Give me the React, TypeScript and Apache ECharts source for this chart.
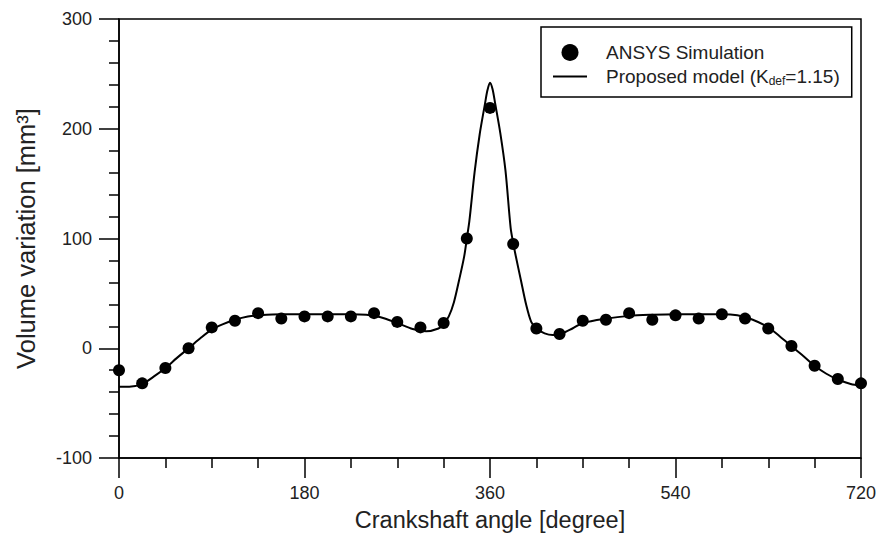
import React, { useEffect, useRef } from "react";
import * as echarts from "echarts";

// ANSYS simulation points
const simAngles = [0, 22.5, 45, 67.5, 90, 112.5, 135, 157.5, 180, 202.5, 225, 247.5, 270, 292.5, 315, 337.5, 360, 382.5, 405, 427.5, 450, 472.5, 495, 517.5, 540, 562.5, 585, 607.5, 630, 652.5, 675, 697.5, 720];
const simVolume = [-20, -32, -18, 0, 19, 25, 32, 27, 29, 29, 29, 32, 24, 19, 23, 100, 219, 95, 18, 13, 25, 26, 32, 26, 30, 27, 31, 27, 18, 2, -16, -28, -32];

// Proposed model curve
const modelAngles = [0, 10, 22.5, 35, 45, 56, 67.5, 80, 90, 101, 112.5, 125, 135, 157.5, 180, 202.5, 225, 240, 253, 270, 285, 298, 310, 315, 320, 325, 330, 335, 337.5, 340, 345, 350, 355, 357.5, 360, 362.5, 365, 370, 375, 380, 382.5, 385, 390, 395, 400, 405, 413, 421, 430, 440, 450, 472.5, 495, 517.5, 540, 562.5, 585, 600, 615, 630, 641, 652.5, 664, 675, 686, 697.5, 710, 720];
const modelVolume = [-35, -35, -32.5, -25, -18, -9, 0, 10, 17, 22, 26, 29, 30, 31, 31, 31, 31, 30.5, 28.5, 23, 17.5, 15.5, 18, 22, 29, 42, 62, 84, 100, 116, 160, 195, 222, 235, 242, 236, 223, 196, 162, 110, 96, 84, 62, 40, 24, 18, 13.5, 12, 13.5, 18, 23, 27, 29.5, 30.5, 31, 31, 31, 30, 26, 19, 11, 2, -7, -16, -23, -28.5, -32.5, -34];

const xTicks = [0, 180, 360, 540, 720];
const yTicks = [-100, 0, 100, 200, 300];

const simName = "ANSYS Simulation";
const modelName = "Proposed model (Kdef=1.15)";

const FONT = "'Liberation Sans', Arial, Helvetica, sans-serif";

export default function App() {
  const ref = useRef<HTMLDivElement>(null);
  useEffect(() => {
    if (!ref.current) return;
    const chart = echarts.init(ref.current, null, { renderer: "svg" });
    const axisLine = { show: true, onZero: false, lineStyle: { color: "#000", width: 1.5 } };
    const axisTick = { show: true, inside: false, length: 20, lineStyle: { color: "#000", width: 1.5 } };
    const minorTick = { show: true, length: 10, lineStyle: { color: "#000", width: 1.5 } };
    chart.setOption({
      animation: false,
      backgroundColor: "#fff",
      textStyle: { fontFamily: FONT },
      grid: {
        left: 119,
        right: 19,
        top: 19,
        bottom: 89,
        show: true,
        borderColor: "#000",
        borderWidth: 1.5,
        containLabel: false,
      },
      legend: {
        orient: "vertical",
        left: 541,
        top: 27,
        padding: [16, 12, 10, 12],
        itemGap: 5,
        itemWidth: 34,
        itemHeight: 17,
        borderColor: "#000",
        borderWidth: 1.5,
        backgroundColor: "#fff",
        data: [
          { name: simName, icon: "circle" },
          { name: modelName, icon: "path://M0,0H34V2H0Z" },
        ],
        formatter: (name: string) =>
          name === modelName
            ? "{g| }{a|Proposed model (K}{b|def}{a|=1.15)}"
            : "{g| }{a|" + name + "}",
        textStyle: {
          fontFamily: FONT,
          color: "#222",
          fontSize: 19,
          rich: {
            g: { width: 14, fontSize: 19 },
            a: { fontSize: 19, color: "#222", fontFamily: FONT },
            b: { fontSize: 12, color: "#222", fontFamily: FONT, verticalAlign: "bottom", padding: [9, 0, 0, 0] },
          },
        },
      },
      xAxis: {
        type: "value",
        min: 0,
        max: 720,
        interval: 180,
        minorTick: { ...minorTick, splitNumber: 4 },
        axisLine,
        axisTick,
        splitLine: { show: false },
        axisLabel: {
          margin: 26,
          fontSize: 18,
          color: "#222",
          fontFamily: FONT,
          formatter: (v: number) => (xTicks.includes(v) ? String(v) : ""),
        },
        name: "Crankshaft angle [degree]",
        nameLocation: "middle",
        nameGap: 50,
        nameTextStyle: { fontFamily: FONT, fontSize: 23.5, color: "#222" },
      },
      yAxis: {
        type: "value",
        min: -100,
        max: 300,
        interval: 100,
        minorTick: { ...minorTick, splitNumber: 5 },
        axisLine,
        axisTick,
        splitLine: { show: false },
        axisLabel: {
          margin: 27,
          fontSize: 18,
          color: "#222",
          fontFamily: FONT,
          formatter: (v: number) => (yTicks.includes(v) ? String(v) : ""),
        },
        name: "Volume variation [mm³]",
        nameLocation: "middle",
        nameGap: 80,
        nameTextStyle: { fontFamily: FONT, fontSize: 25.5, color: "#222" },
      },
      series: [
        {
          name: modelName,
          type: "line",
          data: modelAngles.map((a, i) => [a, modelVolume[i]]),
          smooth: 0.3,
          symbol: "none",
          lineStyle: { color: "#000", width: 2 },
          itemStyle: { color: "#000" },
          z: 2,
        },
        {
          name: simName,
          type: "scatter",
          data: simAngles.map((a, i) => [a, simVolume[i]]),
          symbol: "circle",
          symbolSize: 12,
          itemStyle: { color: "#000", opacity: 1 },
          z: 3,
        },
      ],
    });
    return () => chart.dispose();
  }, []);
  return (
    <div
      ref={ref}
      style={{ position: "fixed", left: 0, top: 0, width: 880, height: 547, background: "#fff" }}
    />
  );
}
